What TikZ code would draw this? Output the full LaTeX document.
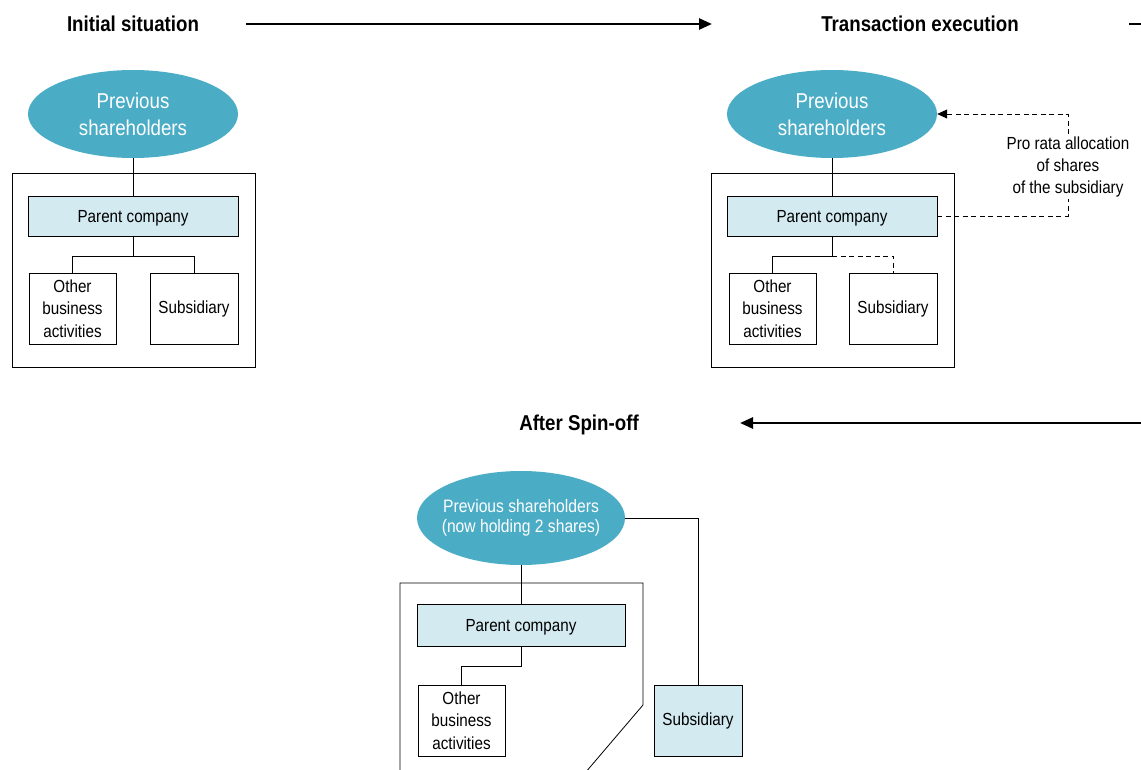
\documentclass[tikz,border=0pt]{standalone}
\usepackage{fontspec}
\setmainfont{Liberation Sans}[FakeStretch=0.87]
\usetikzlibrary{shapes.geometric,arrows.meta}
\definecolor{shteal}{HTML}{4BACC6}
\definecolor{shlight}{HTML}{D2EAF0}
\tikzset{
  ttl/.style={font=\bfseries\fontsize{21.5}{26}\selectfont, inner sep=0pt, text depth=0pt},
  bigarrow/.style={line width=2.6pt, -{Triangle[length=13pt,width=11pt]}},
  holder/.style={ellipse, fill=shteal, text=white, inner sep=0pt, align=center},
  parentbox/.style={draw=black, line width=0.8pt, fill=shlight, minimum width=210pt, minimum height=40pt, inner sep=0pt, text depth=0pt, font=\fontsize{17.5}{22}\selectfont},
  unitbox/.style={draw=black, line width=0.8pt, fill=white, minimum width=87pt, minimum height=71pt, inner sep=0pt, align=center, font=\fontsize{17.5}{22.5}\selectfont},
  outerbox/.style={draw=black, line width=0.8pt, minimum width=243pt, minimum height=194pt, inner sep=0pt},
  link/.style={draw=black, line width=0.8pt},
  dlink/.style={draw=black, line width=0.8pt, dash pattern=on 5pt off 3.5pt},
}
\begin{document}
\begin{tikzpicture}[x=1pt,y=-1pt]
\useasboundingbox (0,0) rectangle (1141,770);
\clip (0,0) rectangle (1141,770);

% titles and stage arrows
\node[ttl] (t1) at (133,24) {Initial situation};
\node[ttl] (t2) at (920,24) {Transaction execution};
\node[ttl] (t3) at (579,423) {After Spin-off};
\coordinate (a1s) at (246,24);
\coordinate (a1e) at (712,24);
\coordinate (a2s) at (1129,24);
\coordinate (a2e) at (1180,24);
\coordinate (a3s) at (1180,423);
\coordinate (a3e) at (740,423);
\draw[bigarrow] (a1s) -- (a1e);
\draw[line width=2.6pt] (a2s) -- (a2e);
\draw[bigarrow] (a3s) -- (a3e);

% panel 1
\node[outerbox] (o1) at (133.5,270) {};
\node[holder, minimum width=210pt, minimum height=88pt, font=\fontsize{21.5}{27}\selectfont] (e1) at (133,114) {Previous\\shareholders};
\node[parentbox] (p1) at (133,216) {Parent company};
\node[unitbox] (b1) at (72.5,308.5) {Other\\business\\activities};
\node[unitbox, minimum width=88pt] (s1) at (194,308.5) {Subsidiary};
\coordinate (j1) at (133,256);
\draw[link] (e1.south) -- (p1.north);
\draw[link] (p1.south) -- (j1) -| (b1.north);
\draw[link] (j1) -| (s1.north);

% panel 2
\node[outerbox] (o2) at (833,270) {};
\node[holder, minimum width=210pt, minimum height=88pt, font=\fontsize{21.5}{27}\selectfont] (e2) at (832,114) {Previous\\shareholders};
\node[parentbox] (p2) at (832,216) {Parent company};
\node[unitbox] (b2) at (772.5,308.5) {Other\\business\\activities};
\node[unitbox, minimum width=88pt] (s2) at (893,308.5) {Subsidiary};
\coordinate (j2) at (832,256);
\draw[link] (e2.south) -- (p2.north);
\draw[link] (p2.south) -- (j2) -| (b2.north);
\draw[dlink] (j2) -| (s2.north);
\coordinate (d1) at (1068,216);
\coordinate (d2) at (1068,114);
\draw[dlink, -{Triangle[length=10pt,width=9pt]}] (p2.east) -- (d1) -- (d2) -- (e2.east);
\node[fill=white, inner sep=2pt, align=center, font=\fontsize{17.5}{22}\selectfont] (lbl) at (1068,167) {Pro rata allocation\\of shares\\of the subsidiary};

% panel 3
\draw[link] (400,800) -- (400,583) -- (643,583) -- (643,705) -- (562,800);
\node[holder, minimum width=208pt, minimum height=94pt, font=\fontsize{18}{21}\selectfont] (e3) at (521,518) {\makebox[0pt]{\begin{tabular}{@{}c@{}}Previous shareholders\\[-1pt](now holding 2 shares)\end{tabular}}};
\node[parentbox, minimum width=208pt, minimum height=42pt] (p3) at (521,625) {Parent company};
\node[unitbox] (b3) at (461.5,720.5) {Other\\business\\activities};
\node[unitbox, minimum width=88pt, fill=shlight] (s3) at (698,720.5) {Subsidiary};
\coordinate (j3) at (521,666);
\draw[link] (e3.south) -- (p3.north);
\draw[link] (p3.south) -- (j3) -| (b3.north);
\draw[link] (e3.east) -| (s3.north);
\end{tikzpicture}
\end{document}
